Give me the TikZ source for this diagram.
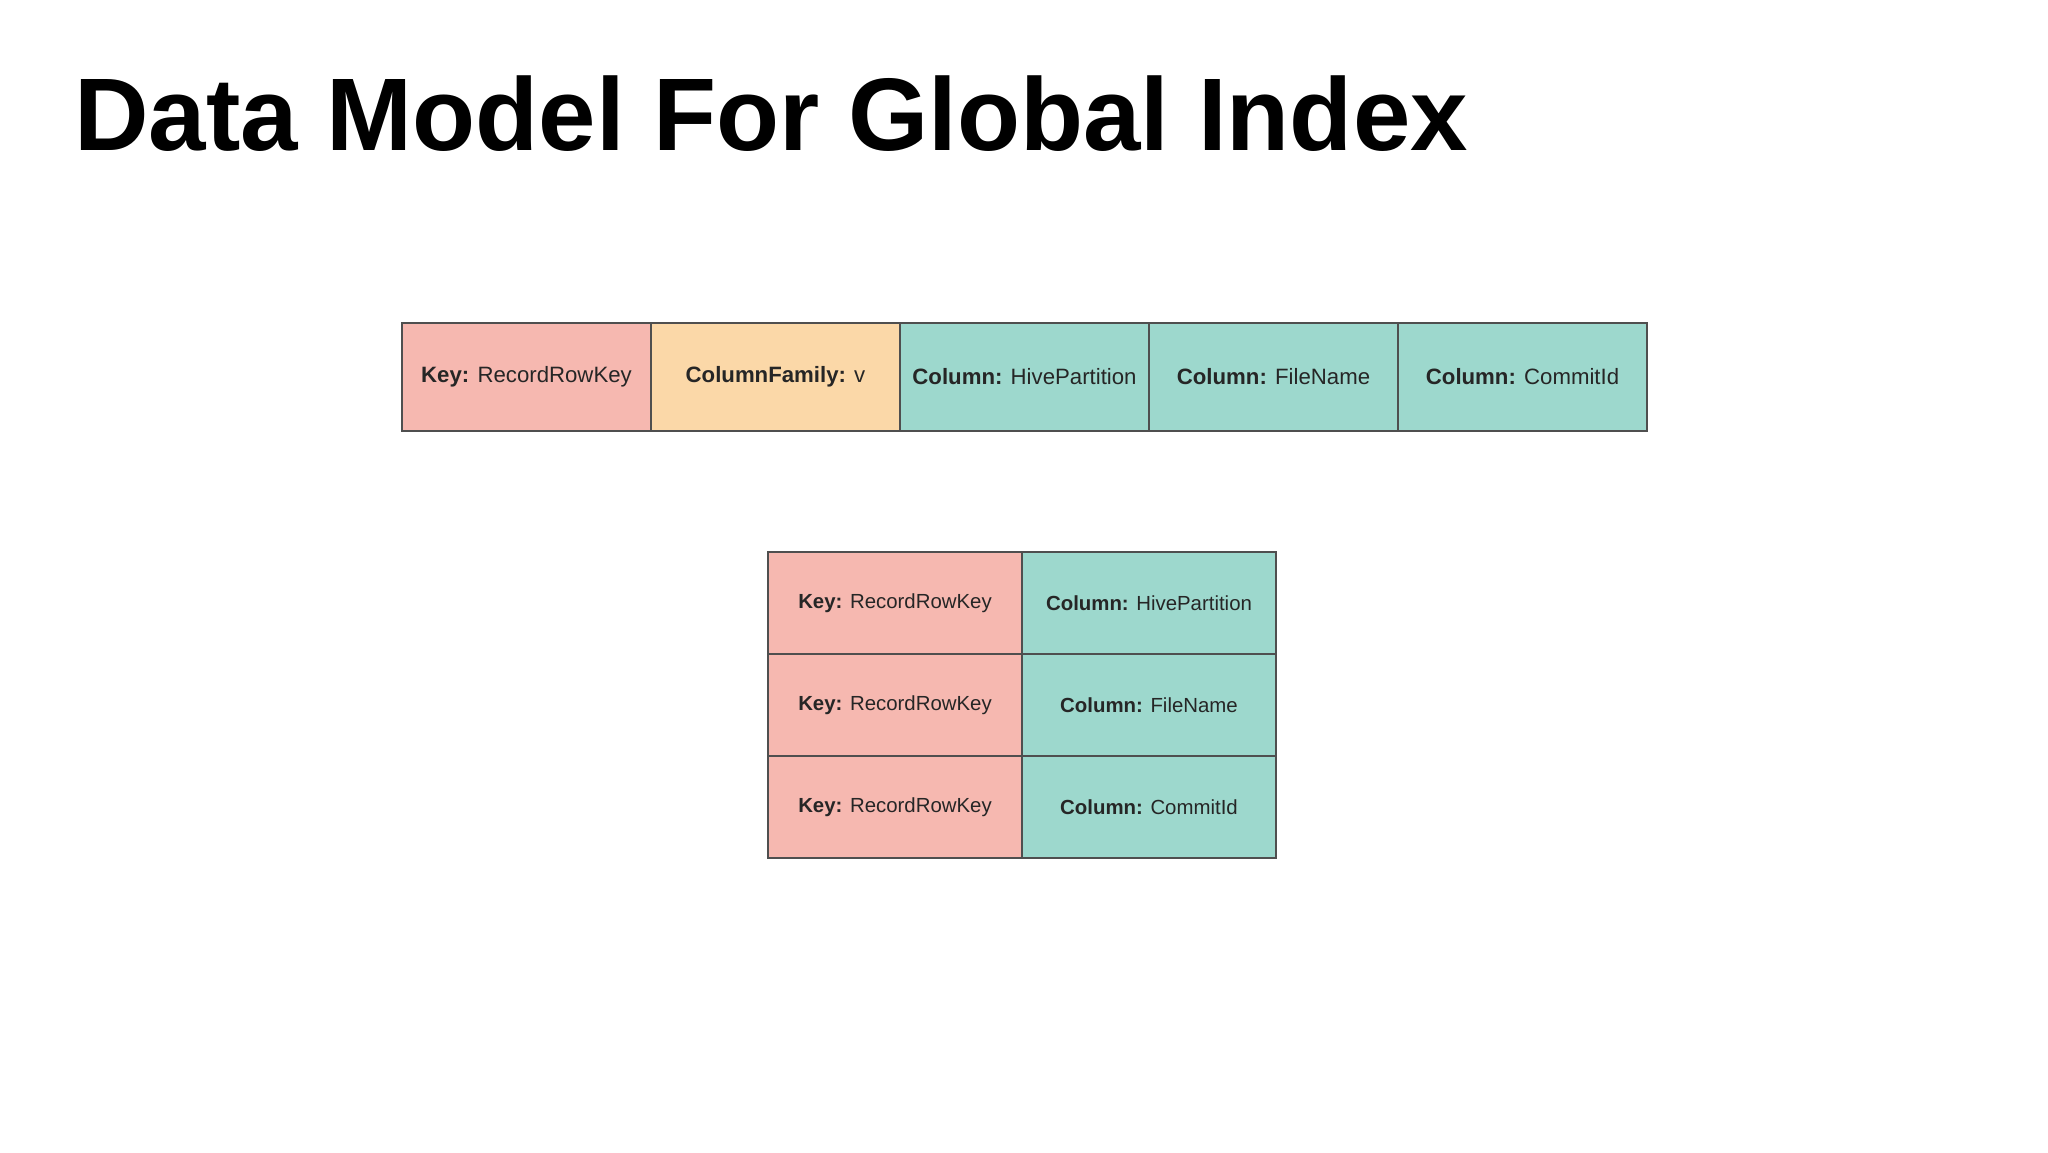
\documentclass[tikz,border=0pt]{standalone}
\usepackage{fontspec}
\setmainfont{Liberation Sans}
\definecolor{keypink}{HTML}{F6B8B0}
\definecolor{cfpeach}{HTML}{FBD8A8}
\definecolor{colteal}{HTML}{9DD8CD}
\definecolor{cellline}{HTML}{4F4F4F}
\definecolor{celltext}{HTML}{262626}

\begin{document}
\begin{tikzpicture}[x=0.5pt,y=-0.5pt]
	\tikzstyle{cell_style} = [rectangle,draw=cellline,line width=0.8pt,inner sep=0pt,outer sep=0pt,text=celltext]
	\tikzstyle{top_style} = [cell_style,minimum width=124.5pt,minimum height=54pt,font=\fontsize{11.1}{13}\selectfont]
	\tikzstyle{low_style} = [cell_style,minimum width=127pt,minimum height=51pt,font=\fontsize{10.2}{12}\selectfont]
	\useasboundingbox[fill=white] (0,0) rectangle (2048,1152);
	% title
	\node[anchor=base west,inner sep=0pt,font=\fontsize{51.6}{60}\selectfont\bfseries] (title) at (74,150) {Data Model For Global Index};
	% one wide row
	\node[top_style,fill=keypink] (k) at (526.5,377) {\textbf{Key:} RecordRowKey};
	\node[top_style,fill=cfpeach] (cf) at (775.5,377) {\textbf{ColumnFamily:} v};
	\node[top_style,fill=colteal] (c1) at (1024.5,377) {\textbf{Column:} HivePartition};
	\node[top_style,fill=colteal] (c2) at (1273.5,377) {\textbf{Column:} FileName};
	\node[top_style,fill=colteal] (c3) at (1522.5,377) {\textbf{Column:} CommitId};
	% one row per column
	\node[low_style,fill=keypink] (k1) at (895,603) {\textbf{Key:} RecordRowKey};
	\node[low_style,fill=colteal] (v1) at (1149,603) {\textbf{Column:} HivePartition};
	\node[low_style,fill=keypink] (k2) at (895,705) {\textbf{Key:} RecordRowKey};
	\node[low_style,fill=colteal] (v2) at (1149,705) {\textbf{Column:} FileName};
	\node[low_style,fill=keypink] (k3) at (895,807) {\textbf{Key:} RecordRowKey};
	\node[low_style,fill=colteal] (v3) at (1149,807) {\textbf{Column:} CommitId};
\end{tikzpicture}
\end{document}
